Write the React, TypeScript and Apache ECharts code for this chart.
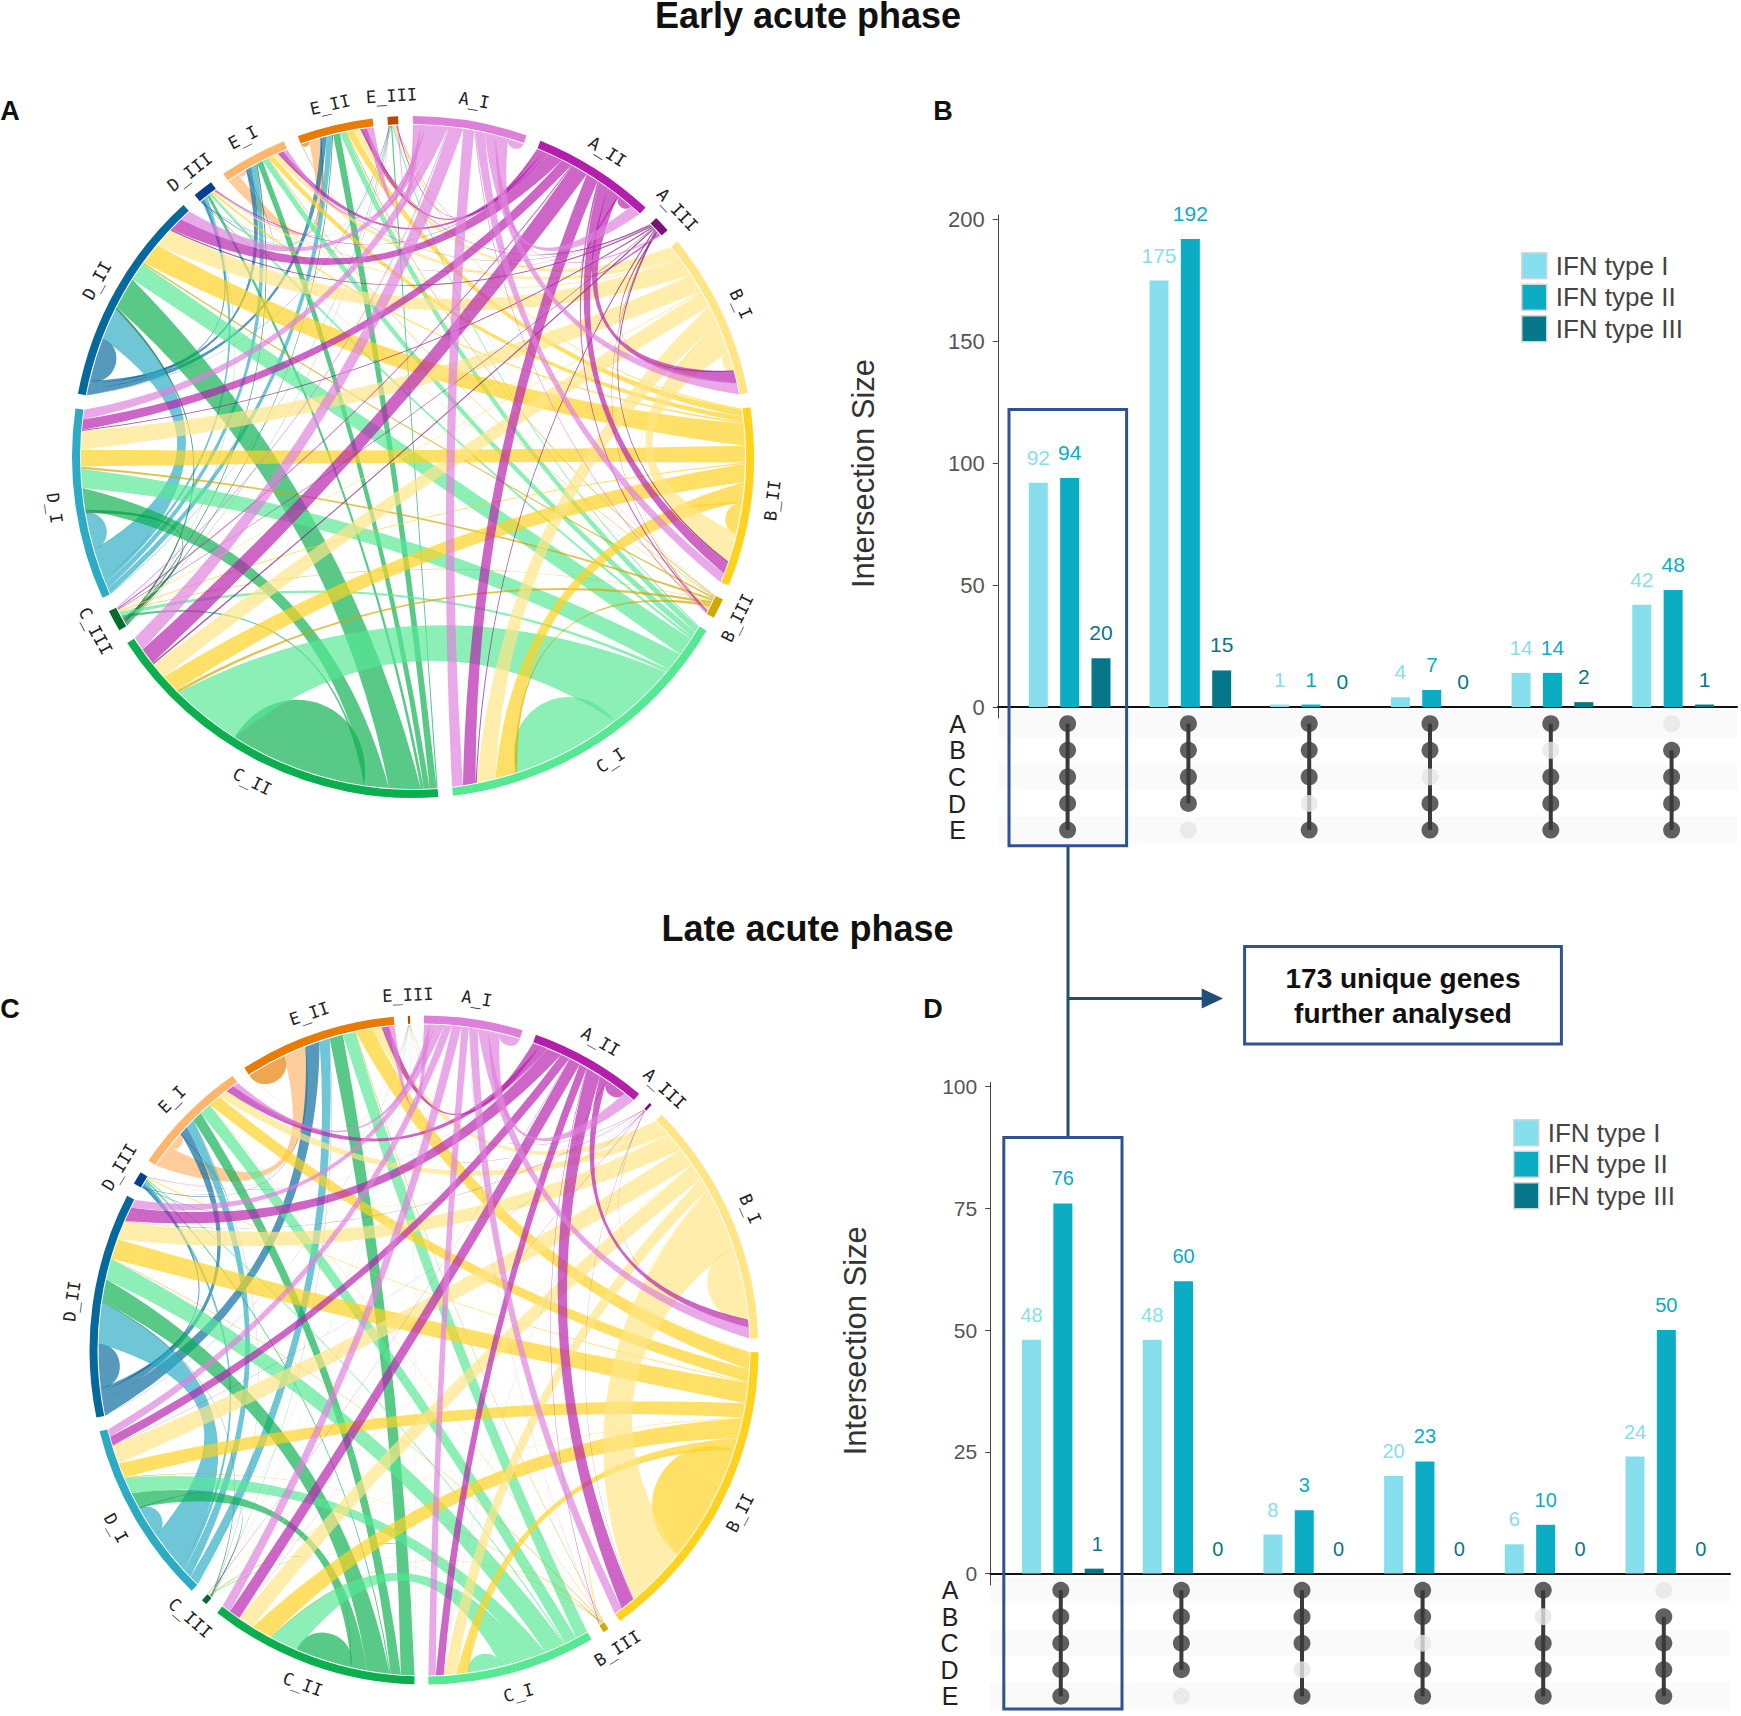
import React, { useEffect, useRef } from "react";
import * as echarts from "echarts";

const sectorNames = ["A_I","A_II","A_III","B_I","B_II","B_III","C_I","C_II","C_III","D_I","D_II","D_III","E_I","E_II","E_III"];
const sectorColors = ["#DE7FDB","#B51DAC","#7A1278","#FFE585","#FFD21F","#CFA800","#56E893","#0BAF4F","#056B30","#2BABC4","#05699E","#04408F","#FFB56B","#E87B00","#B84A00"];

// Upper triangle of the link-width tables: row i lists links to sectors i, i+1, ... E_III
const earlyLinks = [
  [2.8,2.0,.3,1.9,1.6,.2,1.9,2.4,.2,1.7,2.0,.2,.8,1.2,.2],
  [2.6,.3,2.1,1.9,.3,2.2,2.9,.2,1.8,2.4,.2,.9,1.0,.2],
  [.2,.25,.3,.1,.2,.25,.1,.2,.25,.05,.1,.15,.05],
  [3.2,5,.3,3.3,2.8,.2,3.2,3.4,.3,.9,1.2,.2],
  [5.2,.35,3.4,3.2,.2,2.9,3.8,.3,.9,1.2,.2],
  [.1,.5,.5,.1,.4,.25,.05,.1,.15,.05],
  [19,12.3,.6,3.3,3.2,.4,1.0,1.0,.2],
  [24,.5,3.8,5.5,.5,1.0,1.2,.2],
  [.1,.6,.4,.05,.2,.15,.05],
  [6.4,5.5,.6,1.0,1.0,.1],
  [7.6,.5,1.0,1.0,.1],
  [.05,.1,.15,.05],
  [1.5,2.0,.05],
  [1.4,.1],
  [.05],
];
const lateLinks = [
  [3.7,2.0,.03,1.9,1.5,.05,1.3,1.6,.03,1.4,1.5,.05,1.0,1.0,.03],
  [3.8,.1,1.4,2.6,.1,1.4,2,.05,1.6,2.6,.05,1.4,1.3,.03],
  [.01,.05,.05,.01,.02,.03,.01,.03,.03,.01,.03,.03,.01],
  [13,11,.1,2.2,2.8,.1,3.3,3.4,.1,1.6,1.6,.03],
  [21,.15,2,3.6,.1,2.6,3.6,.15,2.2,3.0,.05],
  [.01,.1,.1,.01,.1,.1,.01,.05,.1,.01],
  [6,5,.1,3,3.6,.2,2.1,2.2,.02],
  [10,.1,2.8,4,.2,1.8,2.4,.02],
  [.01,.2,.15,.01,.05,.05,.01],
  [5.5,7.3,.6,1.6,1.8,.03],
  [7.9,.6,1.6,2.6,.03],
  [.05,.1,.1,.01],
  [3,4,.02],
  [7,.05],
  [.02],
];

const intersections = ["ABCDE","ABCD","ABCE","ABDE","ACDE","BCDE"];
const setNames = ["A","B","C","D","E"];
const membership = [
  [1,1,1,1,1],
  [1,1,1,1,0],
  [1,1,1,0,1],
  [1,1,0,1,1],
  [1,0,1,1,1],
  [0,1,1,1,1],
];
const earlyTypeI = [92,175,1,4,14,42];
const earlyTypeII = [94,192,1,7,14,48];
const earlyTypeIII = [20,15,0,0,2,1];
const lateTypeI = [48,48,8,20,6,24];
const lateTypeII = [76,60,13,23,10,50];
const lateTypeIILabels = ["76","60","3","23","10","50"];
const lateTypeIII = [1,0,0,0,0,0];
const typeNames = ["IFN type I","IFN type II","IFN type III"];
const typeColors = ["#87DEEC","#0BACC4","#067788"];

const SANS = "'Liberation Sans', Arial, sans-serif";

type Ribbon = { d: string; color: string };
function chordLayout(rows: number[][], cx: number, cy: number, R: number, gap: number) {
  const n = sectorNames.length;
  const m: number[][] = Array.from({ length: n }, () => new Array(n).fill(0));
  rows.forEach((row, i) => row.forEach((v, k) => { m[i][i + k] = v; m[i + k][i] = v; }));
  const totals = m.map((r) => r.reduce((a, b) => a + b, 0));
  const sum = totals.reduce((a, b) => a + b, 0);
  const scale = (360 - gap * n) / sum;
  const sectors: { start: number; end: number }[] = [];
  const spans: Record<string, [number, number]> = {};
  let a = 0;
  for (let i = 0; i < n; i++) {
    const start = a;
    for (let j = n - 1; j >= 0; j--) {
      const w = m[i][j] * scale;
      spans[i + "-" + j] = [a, a + w];
      a += w;
    }
    sectors.push({ start, end: a });
    a += gap;
  }
  const r = R - 9;
  const pt = (deg: number, rad = r) => {
    const t = (deg * Math.PI) / 180;
    return [cx + rad * Math.sin(t), cy - rad * Math.cos(t)];
  };
  const f = (p: number[]) => p[0].toFixed(2) + " " + p[1].toFixed(2);
  const arc = (p: number[]) => `A ${r} ${r} 0 0 1 ${f(p)}`;
  const ctrl = (p: number[], q: number[]) => [cx + 0.5 * ((p[0] + q[0]) / 2 - cx), cy + 0.5 * ((p[1] + q[1]) / 2 - cy)];
  const ribbons: Ribbon[] = [];
  for (let i = n - 1; i >= 0; i--) {
    for (let j = n - 1; j >= i; j--) {
      if (!m[i][j]) continue;
      const [a0, a1] = spans[i + "-" + j];
      const color = sectorColors[i];
      if (i === j) {
        const p0 = pt(a0), p1 = pt(a1);
        const chord = Math.hypot(p0[0] - p1[0], p0[1] - p1[1]);
        const depth = 0.6 * chord;
        const c1 = pt(a1, r - depth), c0 = pt(a0, r - depth);
        ribbons.push({ color, d: `M ${f(p0)} ${arc(p1)} C ${f(c1)} ${f(c0)} ${f(p0)} Z` });
      } else {
        const [b0, b1] = spans[j + "-" + i];
        const pa0 = pt(a0), pa1 = pt(a1), pb0 = pt(b0), pb1 = pt(b1);
        ribbons.push({
          color,
          d: `M ${f(pa0)} ${arc(pa1)} Q ${f(ctrl(pa1, pb0))} ${f(pb0)} ${arc(pb1)} Q ${f(ctrl(pb1, pa0))} ${f(pa0)} Z`,
        });
      }
    }
  }
  return { sectors, ribbons, cx, cy, R };
}

function chordSeries(rows: number[][], cx: number, cy: number, R: number, gap: number) {
  const L = chordLayout(rows, cx, cy, R, gap);
  const ribbonSeries = {
    type: "custom",
    coordinateSystem: "none",
    silent: true,
    clip: false,
    data: L.ribbons.map((_, i) => [i]),
    renderItem: (params: any) => {
      const rb = L.ribbons[params.dataIndex];
      return { type: "path", shape: { pathData: rb.d }, style: { fill: rb.color, opacity: 0.68, stroke: "none" } };
    },
  };
  const ringSeries = {
    type: "custom",
    coordinateSystem: "none",
    silent: true,
    clip: false,
    data: sectorNames.map((_, i) => [i]),
    renderItem: (params: any) => {
      const i = params.dataIndex;
      const s = L.sectors[i];
      const mid = (s.start + s.end) / 2;
      const t = (mid * Math.PI) / 180;
      const lr = R + 21;
      const rot = mid > 90 && mid < 270 ? mid - 180 : mid;
      return {
        type: "group",
        children: [
          {
            type: "sector",
            shape: {
              cx, cy, r: R, r0: R - 8,
              startAngle: ((s.start - 90) * Math.PI) / 180,
              endAngle: ((s.end - 90) * Math.PI) / 180,
              clockwise: true,
            },
            style: { fill: sectorColors[i] },
          },
          {
            type: "text",
            x: cx + lr * Math.sin(t),
            y: cy - lr * Math.cos(t),
            rotation: (-rot * Math.PI) / 180,
            style: {
              text: sectorNames[i],
              fill: "#222",
              fontSize: 17,
              fontFamily: "'DejaVu Sans Mono', monospace",
              align: "center",
              verticalAlign: "middle",
            },
          },
        ],
      };
    },
  };
  return [ribbonSeries, ringSeries];
}

function barPanel(axisBase: number, values: number[][], labels: (string | number)[][], fontSize: number, lastShift: number) {
  const series: any[] = values.map((vals, k) => ({
    name: typeNames[k],
    type: "bar",
    xAxisIndex: axisBase,
    yAxisIndex: axisBase,
    data: vals,
    barWidth: 19,
    barGap: "65%",
    itemStyle: { color: typeColors[k] },
    label: {
      show: true,
      position: "top",
      distance: 15,
      offset: [k === 2 ? lastShift : 0, 0],
      color: typeColors[k],
      fontSize,
      fontFamily: SANS,
      formatter: (p: any) => String(labels[k][p.dataIndex]),
    },
  }));
  membership.forEach((col, c) => {
    const on = col.map((v, r) => (v ? r : -1)).filter((r) => r >= 0);
    series.push({
      type: "line",
      xAxisIndex: axisBase + 1,
      yAxisIndex: axisBase + 1,
      data: [[c, on[0]], [c, on[on.length - 1]]],
      symbol: "none",
      silent: true,
      z: 3,
      lineStyle: { color: "#3A3A3A", width: 4 },
    });
  });
  series.push({
    type: "scatter",
    xAxisIndex: axisBase + 1,
    yAxisIndex: axisBase + 1,
    symbolSize: 17,
    silent: true,
    z: 4,
    data: membership.flatMap((col, c) =>
      col.map((v, r) => ({ value: [c, r], itemStyle: { color: v ? "#3A3A3A" : "#E6E6E6" } }))
    ),
  });
  return series;
}

function barAxes(o: {
  base: number; left: number; axisX: number; zeroY: number; unit: number; top: number; bottom: number;
  ticks: number[]; matrixTop: number; rowStep: number; matLeft: number; matRight: number;
  firstCol: number; colStep: number; nameGap: number; namePad: number; tickFont: number;
}) {
  const width = 724.2;
  const grids = [
    { left: o.left, width, top: o.top, height: o.bottom - o.top },
    { left: o.matLeft, width: o.matRight - o.matLeft, top: o.matrixTop, height: o.rowStep * 5 },
  ];
  const xAxes = [
    { type: "category", gridIndex: o.base, data: intersections, show: false },
    {
      type: "value",
      gridIndex: o.base + 1,
      position: "top",
      offset: o.matrixTop - o.zeroY,
      min: (o.matLeft - o.firstCol) / o.colStep,
      max: (o.matRight - o.firstCol) / o.colStep,
      axisLine: { show: true, onZero: false, lineStyle: { color: "#111", width: 2 } },
      axisTick: { show: false },
      axisLabel: { show: false },
      splitLine: { show: false },
    },
  ];
  const yAxes = [
    {
      type: "value",
      gridIndex: o.base,
      min: (o.zeroY - o.bottom) / o.unit,
      max: (o.zeroY - o.top) / o.unit,
      offset: o.left - o.axisX,
      name: "Intersection Size",
      nameLocation: "middle",
      nameRotate: 90,
      nameGap: o.nameGap,
      nameTextStyle: { fontSize: 31, color: "#333", fontFamily: SANS, padding: [0, o.namePad, 0, 0] },
      axisLine: { show: true, lineStyle: { color: "#444", width: 1 } },
      axisTick: { show: true, length: 5, customValues: o.ticks, lineStyle: { color: "#444" } },
      axisLabel: { show: true, margin: 13, customValues: o.ticks, fontSize: o.tickFont, color: "#555", fontFamily: SANS },
      splitLine: { show: false },
    },
    {
      type: "category",
      gridIndex: o.base + 1,
      data: setNames,
      inverse: true,
      axisLine: { show: false },
      axisTick: { show: false },
      axisLabel: { interval: 0, margin: 32, fontSize: 25, color: "#222", fontFamily: SANS },
      splitLine: { show: false },
      splitArea: { show: true, interval: 0, areaStyle: { color: ["#FAFAFA", "#FFFFFF"] } },
    },
  ];
  return { grids, xAxes, yAxes };
}

const BLUE = "#2E5391";
const ARROW = "#1F4E79";

export default function App() {
  const ref = useRef<HTMLDivElement>(null);
  useEffect(() => {
    document.body.style.margin = "0";
    const chart = echarts.init(ref.current!, undefined, { renderer: "svg" });
    const earlyAxes = barAxes({
      base: 0,
      left: 1009.3, axisX: 997.8, zeroY: 707, unit: 2.437, top: 215, bottom: 718,
      ticks: [0, 50, 100, 150, 200], matrixTop: 710.4, rowStep: 26.6, matLeft: 998, matRight: 1737,
      firstCol: 1067.6, colStep: 120.8, nameGap: 119, namePad: 14, tickFont: 22,
    });
    const lateAxes = barAxes({
      base: 2,
      left: 1002.5, axisX: 990.2, zeroY: 1573.5, unit: 4.87, top: 1082.5, bottom: 1585,
      ticks: [0, 25, 50, 75, 100], matrixTop: 1577, rowStep: 26.5, matLeft: 990.5, matRight: 1730,
      firstCol: 1060.8, colStep: 120.6, nameGap: 119, namePad: 14, tickFont: 21,
    });
    const legendBase = {
      orient: "vertical",
      icon: "rect",
      itemWidth: 25,
      itemHeight: 26,
      selectedMode: false,
      padding: 0,
      data: typeNames,
      itemStyle: { borderColor: "#D5D5D5", borderWidth: 1.5 },
      textStyle: { fontSize: 26, color: "#444", fontFamily: SANS, padding: [0, 0, 0, 4] },
    };
    const text = (t: string, x: number, y: number, fontSize: number, extra: any = {}) => ({
      type: "text",
      x,
      y,
      z: 100,
      style: {
        text: t,
        fill: "#111",
        fontSize,
        fontWeight: "bold",
        fontFamily: SANS,
        align: "center",
        verticalAlign: "middle",
        ...extra,
      },
    });
    const box = (x: number, y: number, width: number, height: number) => ({
      type: "rect",
      z: 100,
      shape: { x, y, width, height },
      style: { fill: "transparent", stroke: BLUE, lineWidth: 3 },
    });
    chart.setOption({
      animation: false,
      backgroundColor: "#fff",
      grid: [...earlyAxes.grids, ...lateAxes.grids],
      xAxis: [...earlyAxes.xAxes, ...lateAxes.xAxes],
      yAxis: [...earlyAxes.yAxes, ...lateAxes.yAxes],
      legend: [
        { ...legendBase, left: 1521, top: 252, itemGap: 4 },
        { ...legendBase, left: 1513, top: 1119, itemGap: 4 },
      ],
      series: [
        ...chordSeries(earlyLinks, 413, 457, 341, 2.5),
        ...chordSeries(lateLinks, 424, 1350, 334.5, 2.41),
        ...barPanel(0, [earlyTypeI, earlyTypeII, earlyTypeIII], [earlyTypeI, earlyTypeII, earlyTypeIII], 21, 0),
        ...barPanel(2, [lateTypeI, lateTypeII, lateTypeIII], [lateTypeI, lateTypeIILabels, lateTypeIII], 20, 3),
      ],
      graphic: [
        text("Early acute phase", 808, 15, 36),
        text("Late acute phase", 807.5, 928, 36),
        text("A", 10, 111, 27),
        text("B", 943, 111, 27),
        text("C", 10, 1009, 27),
        text("D", 933, 1009, 27),
        box(1009, 409.5, 117.6, 436.3),
        box(1003.8, 1137.5, 118.2, 571.5),
        { type: "line", z: 99, shape: { x1: 1068, y1: 846, x2: 1068, y2: 1137 }, style: { stroke: ARROW, lineWidth: 3 } },
        { type: "line", z: 99, shape: { x1: 1068, y1: 998.5, x2: 1204, y2: 998.5 }, style: { stroke: ARROW, lineWidth: 3 } },
        { type: "polygon", z: 99, shape: { points: [[1201.7, 988.5], [1223, 998.5], [1201.7, 1008.5]] }, style: { fill: ARROW } },
        box(1244.6, 946.5, 316.8, 97.5),
        text("173 unique genes\nfurther analysed", 1403, 996, 28, { lineHeight: 35 }),
      ],
    });
    return () => chart.dispose();
  }, []);
  return <div ref={ref} style={{ width: 1741, height: 1716, background: "#fff" }} />;
}
